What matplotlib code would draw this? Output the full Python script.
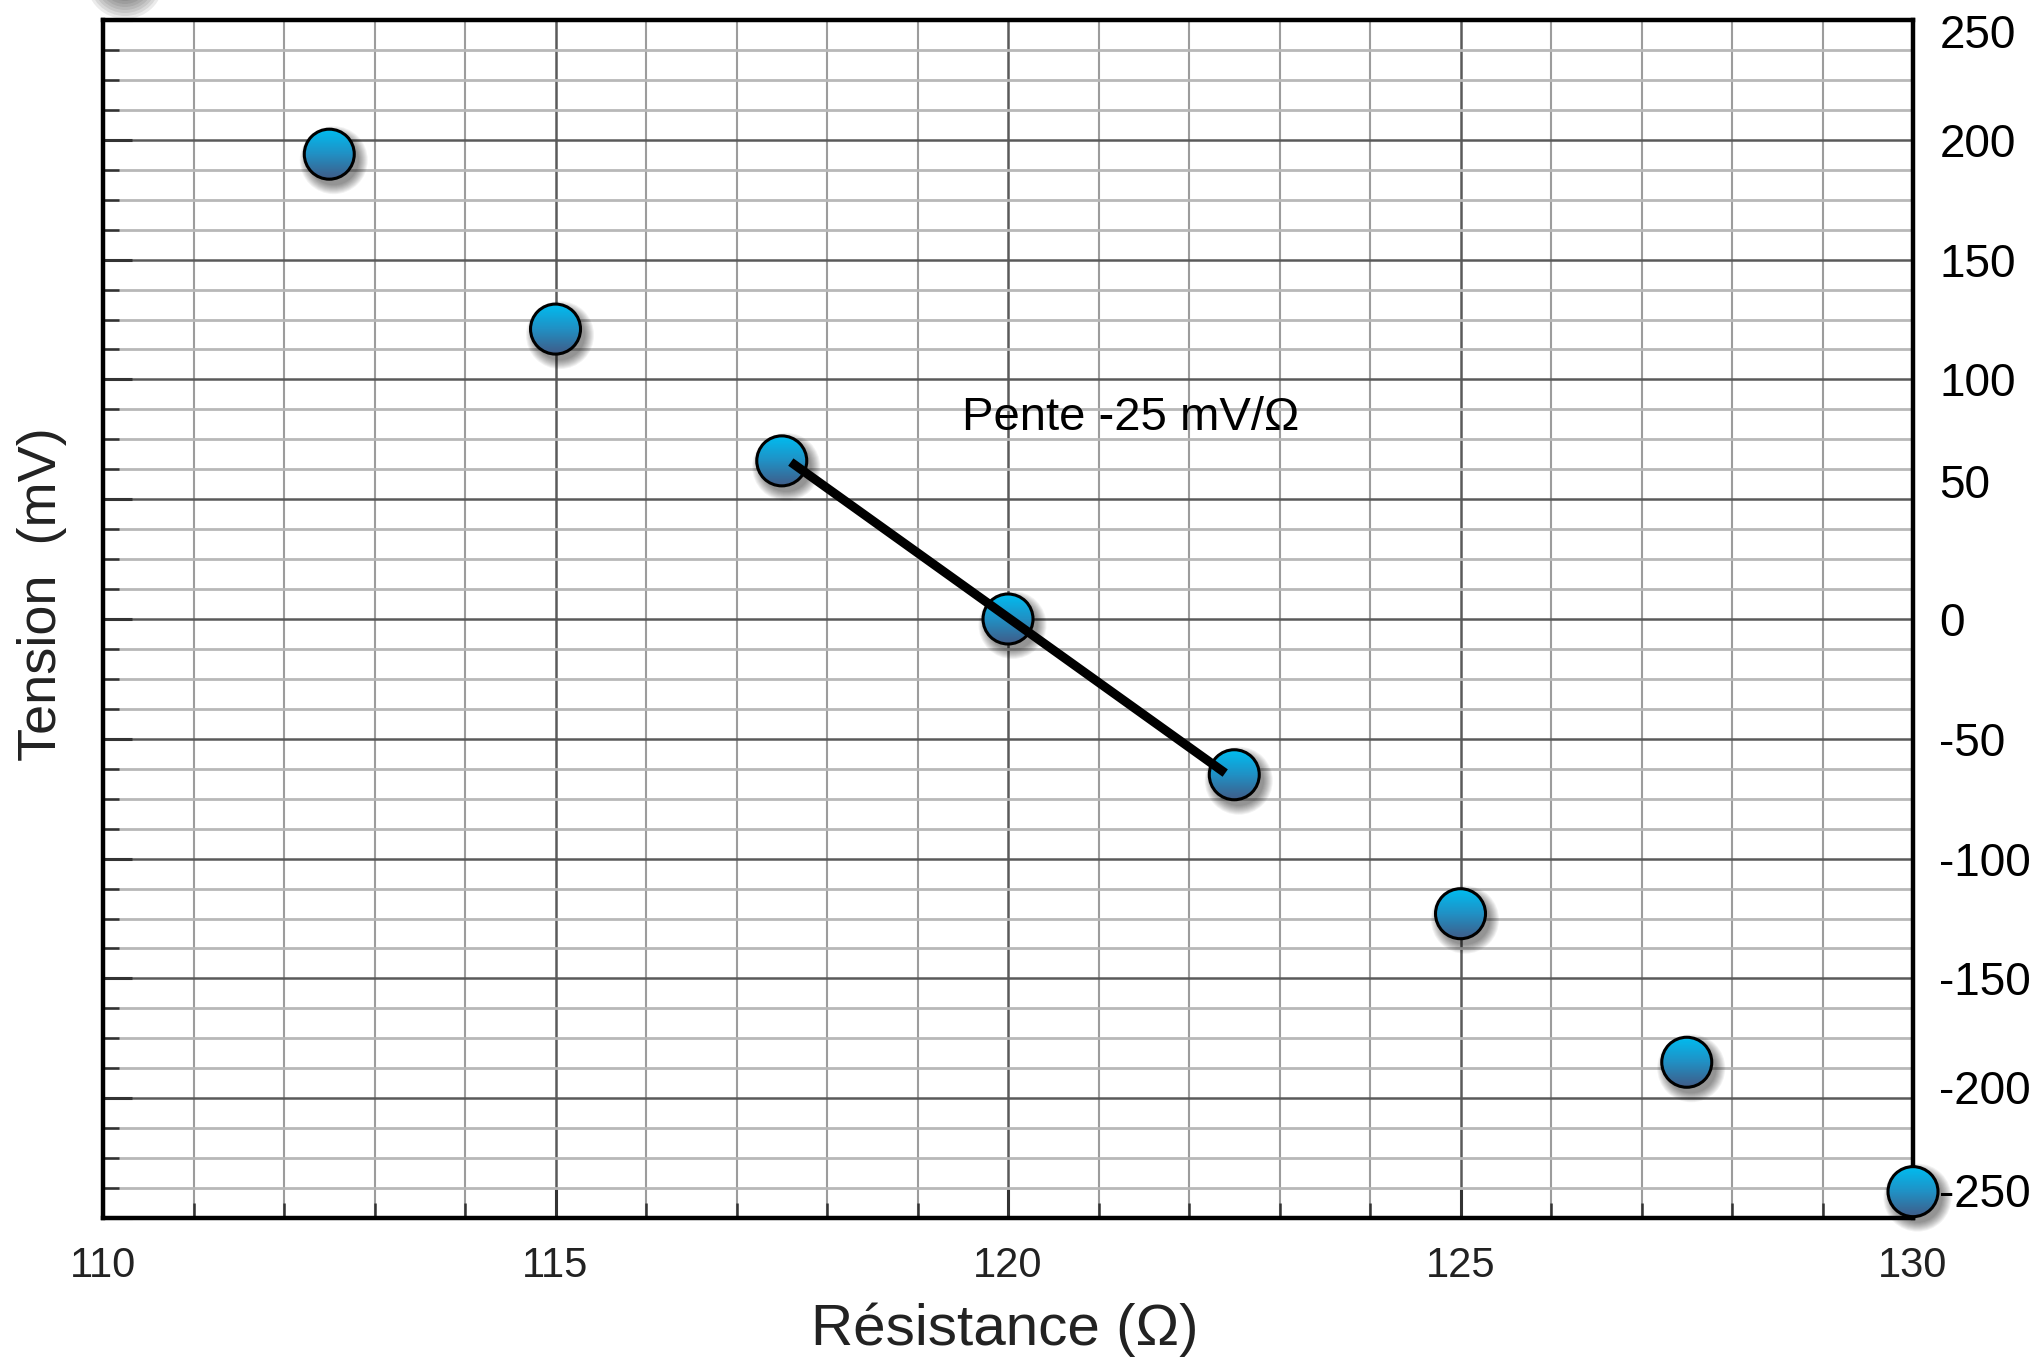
import matplotlib
matplotlib.use("Agg")
import matplotlib.pyplot as plt
import numpy as np
from matplotlib.colors import LinearSegmentedColormap
from matplotlib.patches import Circle
from matplotlib.transforms import ScaledTranslation

# measured points (resistance in ohm, tension in mV)
resistance = [112.5, 115.0, 117.5, 120.0, 122.5, 125.0, 127.5, 130.0]
tension = [194, 121, 66, 0, -65, -123, -185, -239]

# hand-drawn slope segment
fit_x = [117.6, 122.4]
fit_y = [65.5, -64.3]

x_ticks = [110, 115, 120, 125, 130]
y_ticks = [250, 200, 150, 100, 50, 0, -50, -100, -150, -200, -250]
slope_label = "Pente -25 mV/Ω"

plt.rcParams["font.family"] = ["Liberation Sans", "DejaVu Sans"]

fig = plt.figure(figsize=(20.4, 13.59), dpi=100)
ax = fig.add_axes([0.0505, 0.10375, 0.88725, 0.88153])

ax.set_xticks(x_ticks)
ax.set_xticks(np.arange(110, 131, 1), minor=True)
ax.set_yticks(y_ticks)
ax.set_yticks(np.arange(-250, 251, 12.5), minor=True)

ax.set_axisbelow(True)
ax.grid(which="major", color="#5a5a5a", lw=1.8)
ax.grid(which="minor", axis="x", color="#9c9c9c", lw=1.5)
ax.grid(which="minor", axis="y", color="#b8b8b8", lw=2.0)

for sp in ax.spines.values():
    sp.set_linewidth(3.2)
    sp.set_color("black")

ax.tick_params(axis="x", which="both", direction="in", top=False, colors="#333333",
               labelcolor="#222222", labelsize=30, pad=20)
ax.tick_params(axis="x", which="major", length=21, width=2.2)
ax.tick_params(axis="x", which="minor", length=11, width=1.8)
ax.tick_params(axis="y", which="both", direction="in", left=True, right=False,
               labelleft=False, labelright=True, colors="#333333",
               labelcolor="black", labelsize=33, pad=19)
ax.tick_params(axis="y", which="major", length=21, width=2.2)
ax.tick_params(axis="y", which="minor", length=11.5, width=1.8)
ax.set_xticklabels([str(v) for v in x_ticks])
ax.set_yticklabels([str(v) for v in y_ticks])

# marker style: gradient disc with black rim and soft drop shadow
r = 0.25  # inches
grad_cmap = LinearSegmentedColormap.from_list("blu", ["#405c88", "#2190c4", "#00bcf0"])
grad = np.linspace(0, 1, 64).reshape(-1, 1)

for x, y in zip(resistance, tension):
    tr = fig.dpi_scale_trans + ScaledTranslation(x, y, ax.transData)
    for k in range(10):
        sh = Circle((0.045, -0.06), r + 0.01 * k, transform=tr, facecolor="black",
                    edgecolor="none", alpha=0.05, zorder=5, clip_on=False)
        ax.add_patch(sh)
    clip = Circle((0, 0), r, transform=tr)
    im = ax.imshow(grad, extent=(-r, r, -r, r), origin="lower", cmap=grad_cmap,
                   aspect="auto", transform=tr, clip_path=clip, zorder=6,
                   interpolation="bilinear")
    im.set_clip_box(fig.bbox)
    rim = Circle((0, 0), r, transform=tr, facecolor="none", edgecolor="black",
                 lw=2.2, zorder=7, clip_on=False)
    ax.add_patch(rim)

ax.plot(fit_x, fit_y, color="black", lw=6.5, solid_capstyle="butt", zorder=8)
ax.text(121.35, 84, slope_label, fontsize=34, ha="center", va="center", zorder=9)

# blurred blob cut by the top edge
for k in range(8):
    blob = Circle((1.25, 13.59 + 0.2), 0.18 + 0.03 * k, transform=fig.dpi_scale_trans,
                  facecolor="#222222", edgecolor="none", alpha=0.09, clip_on=False)
    fig.patches.append(blob)

ax.set_xlabel("Résistance (Ω)", fontsize=42, color="#222222")
ax.xaxis.set_label_coords(0.498, -0.106)
ax.xaxis.label.set_va("baseline")
ax.set_ylabel("Tension  (mV)", fontsize=39, color="#222222")
ax.yaxis.set_label_coords(-0.0337, 0.521)
ax.yaxis.label.set_va("center")

ax.set_xlim(110, 130)
ax.set_ylim(-250, 250)

# right-hand labels sit slightly off their grid lines in the original
nudges = {"250": -8, "50": 13, "-200": 8, "-250": 20}
for lab in ax.get_yticklabels():
    dy = nudges.get(lab.get_text())
    if dy:
        lab.set_transform(lab.get_transform() + ScaledTranslation(0, dy / 72, fig.dpi_scale_trans))

fig.savefig("out.png", dpi=100, facecolor="white")
